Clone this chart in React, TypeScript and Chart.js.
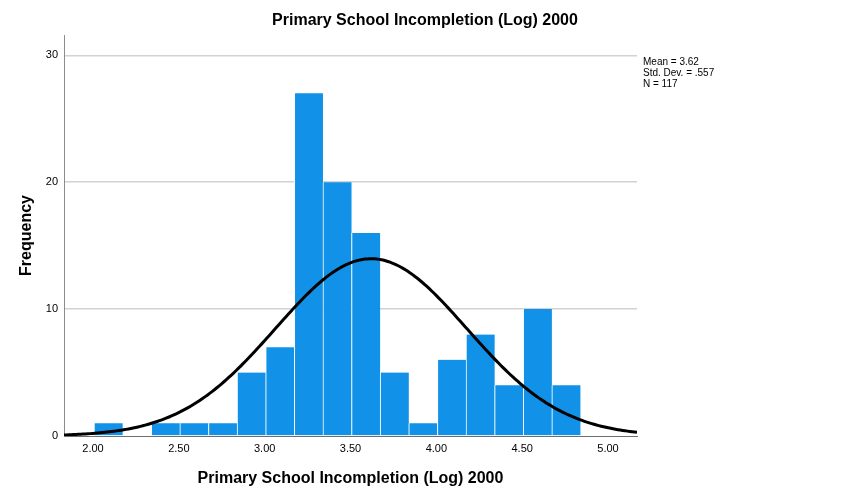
import React, { useEffect, useRef } from "react";
import { Chart, registerables } from "chart.js";

Chart.register(...registerables);

const TITLE = "Primary School Incompletion (Log) 2000";
const X_LABEL = "Primary School Incompletion (Log) 2000";
const Y_LABEL = "Frequency";

// Histogram bins
const BIN_START = 2.006;
const BIN_WIDTH = 0.1667;
const COUNTS = [1, 0, 1, 1, 1, 5, 7, 27, 20, 16, 5, 1, 6, 8, 4, 10, 4];

// Axis ticks
const X_TICKS = [2.0, 2.5, 3.0, 3.5, 4.0, 4.5, 5.0];
const Y_TICKS = [0, 10, 20, 30];

// Summary statistics
const MEAN = 3.62;
const SD = 0.557;
const N = 117;
const STATS = ["Mean = 3.62", "Std. Dev. = .557", "N = 117"];

const X_MIN = 1.831;
const X_MAX = 5.169;
const Y_MAX = 31.6;

const FONT = '"Liberation Sans", Arial, sans-serif';

export default function App() {
  const ref = useRef<HTMLCanvasElement | null>(null);

  useEffect(() => {
    document.body.style.margin = "0";
    const canvas = ref.current;
    if (!canvas) return;

    const barData = COUNTS.map((c, i) => ({ x: BIN_START + BIN_WIDTH * (i + 0.5), y: c }));
    const curve: { x: number; y: number }[] = [];
    const steps = 240;
    for (let i = 0; i <= steps; i++) {
      const x = X_MIN + ((X_MAX - X_MIN) * i) / steps;
      const z = (x - MEAN) / SD;
      const y = (N * BIN_WIDTH * Math.exp(-0.5 * z * z)) / (SD * Math.sqrt(2 * Math.PI));
      curve.push({ x, y });
    }

    const textPlugin = {
      id: "texts",
      afterDraw(chart: any) {
        const ctx = chart.ctx;
        ctx.save();
        ctx.fillStyle = "#000";
        ctx.textAlign = "center";
        ctx.textBaseline = "middle";
        ctx.font = `bold 16px ${FONT}`;
        ctx.fillText(TITLE, 425, 21);
        ctx.textAlign = "left";
        ctx.font = `10px ${FONT}`;
        STATS.forEach((s, i) => ctx.fillText(s, 643, 62 + i * 11));
        ctx.restore();
      },
    };

    const chart = new Chart(canvas, {
      type: "bar",
      data: {
        datasets: [
          {
            type: "line",
            data: curve,
            borderColor: "#000",
            borderWidth: 3,
            pointRadius: 0,
            fill: false,
            tension: 0,
            order: 0,
          } as any,
          {
            type: "bar",
            data: barData,
            backgroundColor: "#1192E8",
            borderColor: "#ffffff",
            borderWidth: { left: 1, right: 0, top: 0, bottom: 0 },
            borderSkipped: false,
            barPercentage: 1,
            categoryPercentage: 1,
            order: 1,
          } as any,
        ],
      },
      options: {
        responsive: false,
        animation: false,
        layout: { padding: { left: 0, top: 35, right: 213, bottom: 0 } },
        plugins: {
          legend: { display: false },
          tooltip: { enabled: false },
          title: { display: false },
        },
        scales: {
          x: {
            type: "linear",
            min: X_MIN,
            max: X_MAX,
            offset: false,
            afterBuildTicks: (s: any) => {
              s.ticks = X_TICKS.map((v) => ({ value: v }));
            },
            afterFit: (s: any) => {
              s.height = 64;
            },
            ticks: {
              color: "#000",
              font: { family: FONT, size: 11 },
              padding: 6,
              maxRotation: 0,
              callback: (v: any) => Number(v).toFixed(2),
            },
            grid: { display: false, drawTicks: false },
            border: { display: true, color: "#6e6e6e", width: 1 },
            title: {
              display: true,
              text: X_LABEL,
              color: "#000",
              font: { family: FONT, size: 16, weight: "bold" },
              padding: { top: 0, bottom: 12 },
            },
          },
          y: {
            type: "linear",
            min: 0,
            max: Y_MAX,
            afterBuildTicks: (s: any) => {
              s.ticks = Y_TICKS.map((v) => ({ value: v }));
            },
            afterFit: (s: any) => {
              s.width = 64;
            },
            ticks: {
              color: "#000",
              font: { family: FONT, size: 11 },
              padding: 6,
            },
            grid: {
              drawTicks: false,
              color: (c: any) => (c.tick && c.tick.value === 0 ? "rgba(0,0,0,0)" : "#d2d2d2"),
              lineWidth: 1.5,
            },
            border: { display: true, color: "#8c8c8c", width: 1 },
            title: {
              display: true,
              text: Y_LABEL,
              color: "#000",
              font: { family: FONT, size: 16, weight: "bold" },
              padding: { top: 17, bottom: 0 },
            },
          },
        },
      },
      plugins: [textPlugin],
    });

    return () => chart.destroy();
  }, []);

  return (
    <div style={{ width: 850, height: 500 }}>
      <canvas ref={ref} width={850} height={500} />
    </div>
  );
}
